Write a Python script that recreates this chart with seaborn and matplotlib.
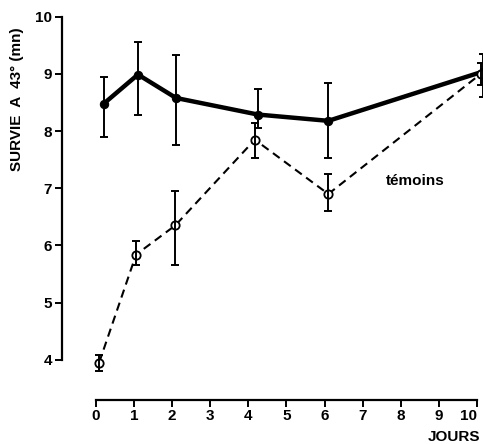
import numpy as np
import pandas as pd
import matplotlib
matplotlib.use("Agg")
import matplotlib.pyplot as plt
import seaborn as sns

# valeurs
jours_traites = [0.2, 1.1, 2.1, 4.25, 6.1, 10.15]
survie_traites = [8.48, 8.99, 8.58, 8.29, 8.18, 9.04]
haut_traites = [8.95, 9.56, 9.34, 8.74, 8.85, 9.35]
bas_traites = [7.90, 8.29, 7.76, 8.05, 7.53, 8.60]

jours_temoins = [0.08, 1.05, 2.08, 4.17, 6.1, 10.1]
survie_temoins = [3.95, 5.84, 6.35, 7.85, 6.90, 9.00]
haut_temoins = [4.09, 6.07, 6.96, 8.15, 7.25, 9.20]
bas_temoins = [3.80, 5.65, 5.65, 7.53, 6.60, 8.80]

xticks = list(range(0, 11))
yticks = list(range(4, 11))

sns.set_style("ticks")
plt.rcParams['font.family'] = ['Liberation Sans', 'DejaVu Sans']
plt.rcParams['font.weight'] = 'bold'
plt.rcParams['text.color'] = 'black'
plt.rcParams['xtick.color'] = 'black'
plt.rcParams['ytick.color'] = 'black'

fig = plt.figure(figsize=(4.83, 4.44), dpi=100)
ax = fig.add_axes([0.128, 0.061, 0.871, 0.914])

df_t = pd.DataFrame({'jours': jours_traites, 'survie': survie_traites})
df_c = pd.DataFrame({'jours': jours_temoins, 'survie': survie_temoins})

sns.lineplot(data=df_t, x='jours', y='survie', ax=ax, color='black', lw=3.2,
             marker='o', markersize=6, markerfacecolor='black', markeredgecolor='black')
sns.lineplot(data=df_c, x='jours', y='survie', ax=ax, color='black', lw=1.5,
             linestyle=(0, (4.0, 2.6)), marker='o', markersize=6,
             markerfacecolor='white', markeredgecolor='black', markeredgewidth=1.3)

for x, y, h, b in zip(jours_traites, survie_traites, haut_traites, bas_traites):
    ax.errorbar(x, y, yerr=[[y - b], [h - y]], fmt='none', ecolor='black',
                elinewidth=1.4, capsize=3, capthick=1.4)
for x, y, h, b in zip(jours_temoins, survie_temoins, haut_temoins, bas_temoins):
    ax.errorbar(x, y, yerr=[[y - b], [h - y]], fmt='none', ecolor='black',
                elinewidth=1.4, capsize=3, capthick=1.4)

ax.set_xlim(-0.9, 10.15)
ax.set_ylim(3.0, 10.1)

for s in ['top', 'right']:
    ax.spines[s].set_visible(False)
ax.spines['left'].set_bounds(4, 10)
ax.spines['left'].set_linewidth(1.6)
ax.spines['bottom'].set_position(('data', 3.3))
ax.spines['bottom'].set_bounds(0, 10)
ax.spines['bottom'].set_linewidth(1.6)
for s in ['left', 'bottom']:
    ax.spines[s].set_color('black')

ax.set_xticks(xticks)
ax.set_yticks(yticks)
ax.set_xticklabels([str(v) for v in xticks], fontsize=11, fontweight='bold')
ax.set_yticklabels([str(v) for v in yticks], fontsize=11, fontweight='bold')
ax.tick_params(axis='both', direction='out', length=5, width=1.4, color='black', pad=2)
ax.get_xticklabels()[-1].set_horizontalalignment('right')
ax.set_xlabel('')
ax.set_ylabel('')

fig.text(17 / 483, 1 - 99 / 444, 'SURVIE  A  43° (mn)', rotation=90, ha='center', va='center',
         fontsize=11, fontweight='bold')
ax.text(7.6, 7.12, 'témoins', ha='left', va='center', fontsize=11, fontweight='bold')
ax.text(10.1, 2.645, 'JOURS', ha='right', va='center', fontsize=11, fontweight='bold',
        clip_on=False)

fig.savefig('out.png', dpi=100)
